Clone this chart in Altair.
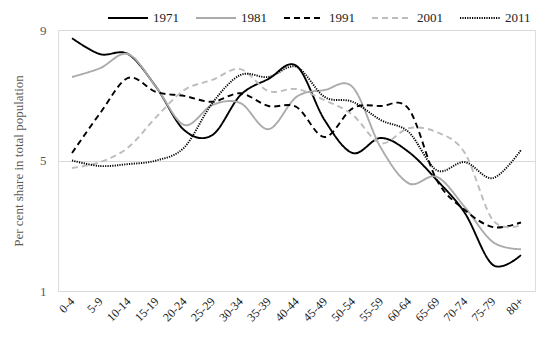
import altair as alt
import pandas as pd

ages = ["0-4", "5-9", "10-14", "15-19", "20-24", "25-29", "30-34", "35-39", "40-44",
        "45-49", "50-54", "55-59", "60-64", "65-69", "70-74", "75-79", "80+"]
years = ["1971", "1981", "1991", "2001", "2011"]
v1971 = [8.75, 8.26, 8.26, 7.25, 5.93, 5.78, 7.0, 7.5, 7.9, 6.24, 5.23, 5.69, 5.26, 4.4, 3.39, 1.8, 2.1]
v1981 = [7.56, 7.83, 8.26, 7.25, 6.09, 6.7, 6.76, 5.96, 6.95, 7.16, 7.25, 5.4, 4.3, 4.5, 3.57, 2.5, 2.28]
v1991 = [5.23, 6.45, 7.53, 7.1, 6.98, 6.8, 7.06, 6.67, 6.64, 5.72, 6.6, 6.67, 6.58, 4.4, 3.48, 2.96, 3.1]
v2001 = [4.77, 4.95, 5.4, 6.33, 7.16, 7.47, 7.8, 7.13, 7.19, 6.85, 6.4, 5.53, 5.99, 5.87, 5.23, 3.17, 3.02]
v2011 = [5.0, 4.83, 4.89, 5.0, 5.4, 6.76, 7.62, 7.56, 7.87, 6.95, 6.8, 6.24, 5.87, 4.7, 4.95, 4.46, 5.32]
y_ticks = [1, 5, 9]

series = dict(zip(years, [v1971, v1981, v1991, v2001, v2011]))
rows = []
for yr, vals in series.items():
    for a, v in zip(ages, vals):
        rows.append({"age": a, "year": yr, "value": v})
df = pd.DataFrame(rows)

colors = ["#000000", "#ababab", "#000000", "#bcbcbc", "#000000"]
dashes = [[1, 0], [1, 0], [6, 4], [6, 4], [1.2, 1.2]]

FONT = "Liberation Serif"

chart = alt.Chart(df).mark_line(interpolate="cardinal", strokeWidth=1.9).encode(
    x=alt.X("age:N", sort=ages, title=None,
            axis=alt.Axis(labelAngle=315, labelAlign="right", labelBaseline="middle",
                          ticks=False, domain=True, domainColor="#d9d9d9", labelPadding=8,
                          labelFontSize=12, labelColor="#222222", labelFont=FONT, grid=False)),
    y=alt.Y("value:Q", title="Per cent share in total population",
            scale=alt.Scale(domain=[1, 9], nice=False),
            axis=alt.Axis(values=y_ticks, ticks=False, domain=False, grid=True, gridColor="#d9d9d9",
                          labelFontSize=13, labelColor="#595959", labelFont=FONT, labelPadding=12,
                          titleFont=FONT, titleFontSize=13, titleColor="#595959",
                          titleFontWeight="normal", titlePadding=14)),
    color=alt.Color("year:N", scale=alt.Scale(domain=years, range=colors),
                    legend=alt.Legend(title=None, orient="none", direction="horizontal",
                                      legendX=49, legendY=-33, symbolType="stroke",
                                      symbolSize=1600, symbolStrokeWidth=2, columnPadding=13,
                                      labelFont=FONT, labelFontSize=13, labelColor="#222222")),
    strokeDash=alt.StrokeDash("year:N", scale=alt.Scale(domain=years, range=dashes)),
).properties(
    width=477, height=261,
    autosize=alt.AutoSizeParams(type="none"),
    padding={"left": 50, "top": 22, "right": 7, "bottom": 49},
).configure_view(stroke=None).configure(font=FONT)

chart.save("out.html", embed_options={"renderer": "svg", "actions": False})
